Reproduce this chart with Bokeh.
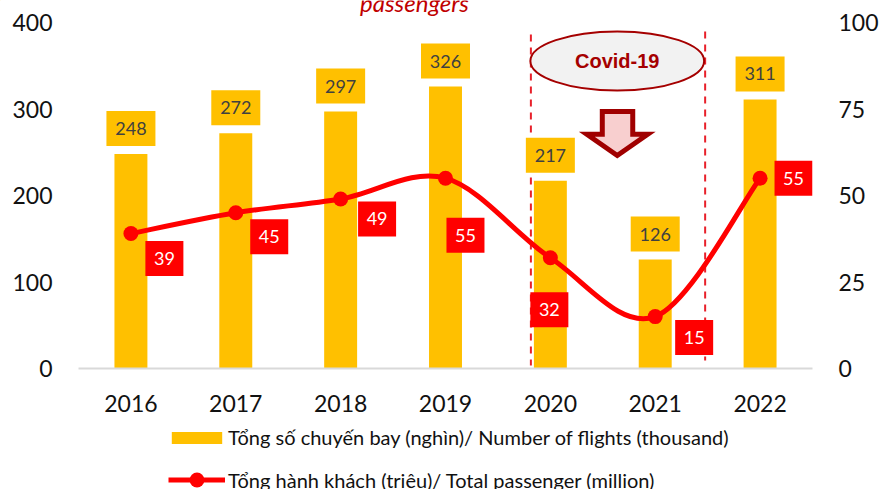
from bokeh.embed import file_html
from bokeh.resources import INLINE
from bokeh.plotting import figure
from bokeh.models import Range1d, LinearAxis, FixedTicker, Legend, LegendItem, Label
from bokeh.core.properties import value
import numpy as np

years = [2016, 2017, 2018, 2019, 2020, 2021, 2022]
flights = [248, 272, 297, 326, 217, 126, 311]
passengers = [39, 45, 49, 55, 32, 15, 55]
left_ticks = [0, 100, 200, 300, 400]
right_ticks = [0, 25, 50, 75, 100]
flights_name = "Tổng số chuyến bay (nghìn)/ Number of flights (thousand)"
passengers_name = "Tổng hành khách (triệu)/ Total passenger (million)"

FONT = "Lato"
W, H = 881, 489
L, R, T, B = 78, 813, 22, 368

p = figure(width=W, height=H, output_backend="svg", toolbar_location=None,
           x_range=Range1d(2015.5, 2022.5), y_range=Range1d(0, 400),
           min_border_left=L, min_border_right=W - R, min_border_top=T, min_border_bottom=H - B,
           outline_line_color=None, y_axis_location=None, x_axis_location=None)
p.styles = {"position": "absolute", "left": "0", "top": "0"}
p.grid.visible = False
p.extra_y_ranges["right"] = Range1d(0, 100)

PX = (R - L) / 7
PY = (B - T) / 400
def dx(px): return 2015.5 + (px - L) / PX
def dy(py): return (B - py) / PY

below = LinearAxis(ticker=FixedTicker(ticks=years), axis_line_color="#D9D9D9", axis_line_width=2,
                   major_tick_line_color=None, minor_tick_line_color=None,
                   major_label_text_font=FONT, major_label_text_font_size="23px",
                   major_label_text_color="#111111", major_label_standoff=20)
p.add_layout(below, "below")
lft = LinearAxis(ticker=FixedTicker(ticks=left_ticks), axis_line_color=None,
                 major_tick_line_color=None, minor_tick_line_color=None,
                 major_label_text_font=FONT, major_label_text_font_size="23px",
                 major_label_text_color="#111111", major_label_standoff=20)
p.add_layout(lft, "left")
rgt = LinearAxis(y_range_name="right", ticker=FixedTicker(ticks=right_ticks), axis_line_color=None,
                 major_tick_line_color=None, minor_tick_line_color=None,
                 major_label_text_font=FONT, major_label_text_font_size="23px",
                 major_label_text_color="#111111", major_label_standoff=20)
p.add_layout(rgt, "right")

p.segment(x0=[dx(531), dx(705.5)], y0=[dy(34), dy(31)], x1=[dx(531), dx(705.5)], y1=[dy(365), dy(360)],
          line_color="#E8202A", line_width=2, line_dash="7 6")

p.vbar(x=years, top=flights, width=33 / PX, fill_color="#FFC000", line_color=None)

xa, ya = np.array(years, float), np.array(passengers, float)
xp = np.r_[xa[0], xa, xa[-1]]
yp = np.r_[ya[0], ya, ya[-1]]
cx0 = xa[:-1] + (xp[2:-1] - xp[:-3]) / 6
cy0 = ya[:-1] + (yp[2:-1] - yp[:-3]) / 6
cx1 = xa[1:] - (xp[3:] - xp[1:-2]) / 6
cy1 = ya[1:] - (yp[3:] - yp[1:-2]) / 6
p.bezier(x0=xa[:-1], y0=ya[:-1], x1=xa[1:], y1=ya[1:], cx0=cx0, cy0=cy0, cx1=cx1, cy1=cy1,
         line_color="#FF0000", line_width=5, y_range_name="right")
p.scatter(x=years, y=passengers, size=15, fill_color="#FF0000", line_color=None, y_range_name="right")

box_up = 25.5
p.rect(x=years, y=[v + box_up / PY for v in flights], width=49, height=35, width_units="screen",
       height_units="screen", fill_color="#FFC000", line_color=None)
p.text(x=years, y=[v + box_up / PY for v in flights], text=[str(v) for v in flights],
       text_font=value(FONT), text_font_size="18px", text_color="#404040",
       text_align="center", text_baseline="middle")

off_x = [33.5, 33.5, 36.5, 20, -1, 39, 33.5]
off_y = [25, 24, 20, 57, 52, 21, 0]
lx = [y + o / PX for y, o in zip(years, off_x)]
ly = [v * 4 - o / PY for v, o in zip(passengers, off_y)]
p.rect(x=lx, y=ly, width=38, height=35, width_units="screen", height_units="screen",
       fill_color="#FF0000", line_color=None)
p.text(x=lx, y=ly, text=[str(v) for v in passengers], text_font=value(FONT), text_font_size="18px",
       text_color="#FFFFFF", text_align="center", text_baseline="middle")

p.ellipse(x=[dx(617.5)], y=[dy(60.5)], width=174 / PX, height=59 / PY, fill_color="#F2F2F2",
          line_color="#A50000", line_width=2)
p.add_layout(Label(x=dx(617.5), y=dy(60.5), text="Covid-19", text_font="Liberation Sans",
                   text_font_style="bold", text_font_size="20px", text_color="#A50000",
                   text_align="center", text_baseline="middle"))
arrow_px = [602.5, 633, 633, 648, 617.5, 587, 602.5]
arrow_py = [111, 111, 133.8, 133.8, 155, 133.8, 133.8]
p.patch(x=[dx(v) for v in arrow_px], y=[dy(v) for v in arrow_py], fill_color="#F8CFCF",
        line_color="#A00000", line_width=5, line_join="miter")

# transparent layer over the whole page for what lies outside the plot frame
q = figure(width=W, height=H, output_backend="svg", toolbar_location=None,
           x_range=Range1d(0, W), y_range=Range1d(H, 0), min_border=0,
           outline_line_color=None, x_axis_location=None, y_axis_location=None,
           background_fill_color=None, border_fill_color=None)
q.styles = {"position": "absolute", "left": "0", "top": "0"}
q.grid.visible = False
q.text(x=[414], y=[2], text=["passengers"], text_font=value(FONT), text_font_style="italic",
       text_font_size="24px", text_color="#C00000", text_align="center", text_baseline="alphabetic")
key_bar = q.vbar(x=[-100], top=[-100], bottom=[-110], width=10, fill_color="#FFC000", line_color=None)
key_line = q.line(x=[-100, -90], y=[-100, -100], line_color="#FF0000", line_width=5)
key_dot = q.scatter(x=[-100], y=[-100], size=15, fill_color="#FF0000", line_color=None)

leg1 = Legend(items=[LegendItem(label=flights_name, renderers=[key_bar])], location=(165, 40),
              glyph_width=63, glyph_height=15, label_text_font=FONT, label_text_font_size="20px",
              label_text_color="#111111", background_fill_alpha=0, border_line_color=None,
              padding=0, margin=0, label_standoff=0)
leg2 = Legend(items=[LegendItem(label=passengers_name, renderers=[key_line, key_dot])], location=(168, -9),
              glyph_width=57, glyph_height=37, label_text_font=FONT, label_text_font_size="20px",
              label_text_color="#111111", background_fill_alpha=0, border_line_color=None,
              padding=0, margin=0, label_standoff=3)
q.add_layout(leg1, "center")
q.add_layout(leg2, "center")

open("out.html", "w").write(file_html([p, q], INLINE))
